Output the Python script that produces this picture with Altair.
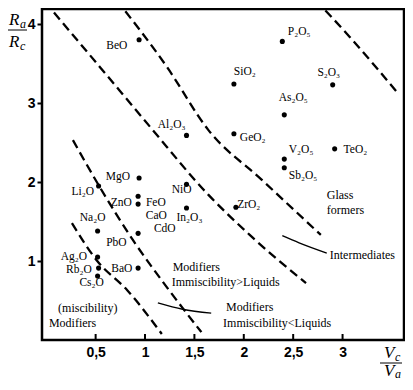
import altair as alt
import pandas as pd

# ---- data points (oxides) ----
pt_name = ["BeO", "Al2O3", "MgO", "NiO", "Li2O", "FeO", "ZnO", "PbO", "In2O3", "Na2O",
           "Ag2O", "Rb2O", "Cs2O", "BaO", "ZrO2", "SiO2", "P2O5", "S2O3", "As2O5",
           "GeO2", "V2O5", "Sb2O5", "TeO2"]
pt_x = [0.94, 1.42, 0.94, 1.42, 0.53, 0.93, 0.93, 0.93, 1.42, 0.52,
        0.52, 0.53, 0.52, 0.93, 1.92, 1.90, 2.39, 2.90, 2.41,
        1.90, 2.41, 2.41, 2.92]
pt_y = [3.80, 2.59, 2.05, 1.97, 1.95, 1.82, 1.72, 1.35, 1.67, 1.38,
        1.05, 0.91, 0.81, 0.91, 1.68, 3.24, 3.78, 3.23, 2.85,
        2.61, 2.29, 2.18, 2.42]

# ---- formula labels ----
lab_text = ["BeO", "Al₂O₃", "MgO", "NiO", "Li₂O", "ZnO", "FeO", "CaO", "CdO", "In₂O₃",
            "Na₂O", "PbO", "Ag₂O", "Rb₂O", "Cs₂O", "BaO", "ZrO₂", "SiO₂", "P₂O₅",
            "S₂O₃", "As₂O₅", "GeO₂", "V₂O₅", "Sb₂O₅", "TeO₂"]
lab_x = [0.714, 1.27, 0.725, 1.37, 0.37, 0.76, 1.11, 1.115, 1.20, 1.45,
         0.47, 0.71, 0.28, 0.33, 0.46, 0.765, 2.05, 2.01, 2.56,
         2.86, 2.50, 2.09, 2.58, 2.60, 3.13]
lab_y = [3.72, 2.72, 2.06, 1.90, 1.87, 1.73, 1.73, 1.57, 1.41, 1.54,
         1.54, 1.23, 1.05, 0.89, 0.72, 0.90, 1.71, 3.39, 3.90,
         3.38, 3.06, 2.56, 2.41, 2.08, 2.41]

# ---- region annotations ----
reg_text = ["Glass", "formers", "Intermediates", "Modifiers", "Immiscibility>Liquids",
            "Modifiers", "Immiscibility<Liquids", "(miscibility)", "Modifiers"]
reg_x = [2.84, 2.84, 2.87, 1.28, 1.27, 1.82, 1.79, 0.12, 0.027]
reg_y = [1.835, 1.64, 1.076, 0.92, 0.73, 0.42, 0.215, 0.405, 0.215]

# ---- dashed boundary lines ----
dash_id = ["C"] * 3 + ["B"] * 5 + ["A"] * 6 + ["D"] * 5 + ["E"] * 4
dash_x = [2.73, 3.07, 3.57,
          0.714, 1.22, 1.64, 2.18, 2.78,
          -0.013, 0.54, 1.05, 1.64, 2.06, 2.63,
          0.27, 0.54, 0.875, 1.22, 1.57,
          0.26, 0.51, 0.82, 1.17]
dash_y = [4.30, 3.84, 3.11,
          4.30, 3.46, 2.66, 2.03, 1.33,
          4.28, 3.46, 2.70, 1.84, 1.33, 0.72,
          2.53, 1.94, 1.27, 0.67, 0.10,
          1.48, 1.01, 0.63, 0.076]

# ---- solid leader curves ----
sol_id = ["I"] * 3 + ["M"] * 3
sol_x = [2.39, 2.56, 2.84, 1.13, 1.38, 1.67]
sol_y = [1.32, 1.23, 1.10, 0.47, 0.39, 0.34]

# ---- ticks ----
x_ticks = [0.5, 1, 1.5, 2, 2.5, 3]
y_ticks = [1, 2, 3, 4]

pts = pd.DataFrame({"name": pt_name, "x": pt_x, "y": pt_y})
labs = pd.DataFrame({"t": lab_text, "x": lab_x, "y": lab_y})
regs = pd.DataFrame({"t": reg_text, "x": reg_x, "y": reg_y})
dash = pd.DataFrame({"id": dash_id, "x": dash_x, "y": dash_y, "o": list(range(len(dash_x)))})
sol = pd.DataFrame({"id": sol_id, "x": sol_x, "y": sol_y, "o": list(range(len(sol_x)))})
xt = pd.DataFrame({"x": x_ticks})

xs = alt.Scale(domain=[-0.043, 3.622], nice=False, zero=False)
ys = alt.Scale(domain=[0, 4.19], nice=False, zero=False)

SERIF = "Liberation Serif"
SANS = "Liberation Sans"

xax = alt.Axis(values=x_ticks, ticks=False, domain=False, grid=False, title=None,
               labelExpr="replace(format(datum.value, '~g'), '.', ',')", labelFont=SANS,
               labelFontWeight="bold", labelFontSize=14, labelColor="black",
               labelPadding=5)
yax = alt.Axis(values=y_ticks, tickSize=5, tickWidth=2, tickColor="black",
               domain=False, grid=False, title=None, labelFont=SANS,
               labelFontWeight="bold", labelFontSize=14, labelColor="black",
               labelPadding=2)

X = alt.X("x:Q", scale=xs, axis=xax)
Y = alt.Y("y:Q", scale=ys, axis=yax)

dots = alt.Chart(pts).mark_circle(color="black", size=26, opacity=1).encode(x=X, y=Y)

dlines = alt.Chart(dash).mark_line(color="black", strokeWidth=2.3, strokeDash=[9, 5],
                                   clip=True, interpolate="monotone").encode(
    x=X, y=Y, detail="id:N", order="o:Q")

slines = alt.Chart(sol).mark_line(color="black", strokeWidth=1.4,
                                  interpolate="monotone").encode(
    x=X, y=Y, detail="id:N", order="o:Q")

ltext = alt.Chart(labs).mark_text(font=SERIF, fontSize=11.5, color="black",
                                  align="center", baseline="middle").encode(
    x=X, y=Y, text="t:N")

rtext = alt.Chart(regs).mark_text(font=SERIF, fontSize=12, color="black",
                                  align="left", baseline="middle").encode(
    x=X, y=Y, text="t:N")

xtick_rules = alt.Chart(xt).mark_rule(color="black", strokeWidth=2).encode(
    x=X, y=alt.value(331), y2=alt.value(325))

one = pd.DataFrame({"k": [0]})


def txt(s, px, py, size):
    return alt.Chart(one).mark_text(text=s, font=SERIF, fontStyle="italic",
                                    fontSize=size, color="black", align="left",
                                    baseline="alphabetic").encode(
        x=alt.value(px), y=alt.value(py))


def bar(x1, x2, py):
    return alt.Chart(one).mark_rule(color="black", strokeWidth=1).encode(
        x=alt.value(x1), x2=alt.value(x2), y=alt.value(py))


titles = [
    txt("R", -33, 16, 17), txt("a", -22, 19, 12), bar(-34, -15, 21),
    txt("R", -33, 38, 17), txt("c", -22, 41, 12),
    txt("V", 342, 349, 17), txt("c", 353, 352, 12), bar(338, 360, 354),
    txt("V", 342, 367, 17), txt("a", 353, 369, 12),
]

chart = alt.layer(dlines, slines, xtick_rules, dots, ltext, rtext, *titles).properties(
    width=362, height=331,
    autosize=alt.AutoSizeParams(type="none"),
    padding={"left": 34, "top": 1, "right": 1, "bottom": 42},
    background="white",
).configure_view(stroke="black", strokeWidth=2.5)

chart.save("out.html", embed_options={"renderer": "svg", "actions": False})
